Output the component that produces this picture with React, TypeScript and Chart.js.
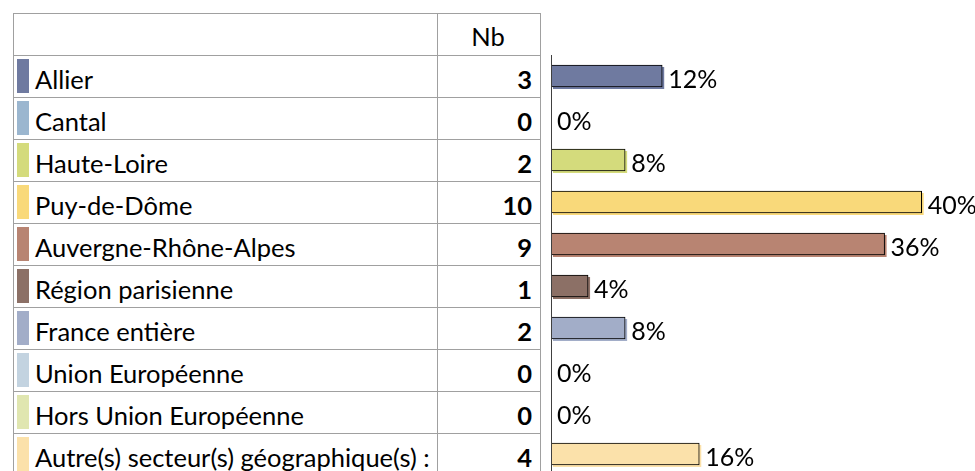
import React, { useEffect, useRef } from "react";
import { Chart, registerables } from "chart.js";

Chart.register(...registerables);

const categories = [
  "Allier",
  "Cantal",
  "Haute-Loire",
  "Puy-de-Dôme",
  "Auvergne-Rhône-Alpes",
  "Région parisienne",
  "France entière",
  "Union Européenne",
  "Hors Union Européenne",
  "Autre(s) secteur(s) géographique(s) :",
];
const counts = [3, 0, 2, 10, 9, 1, 2, 0, 0, 4];
const percents = [12, 0, 8, 40, 36, 4, 8, 0, 0, 16];
const colors = [
  "#6f7aa0",
  "#9bb6cf",
  "#d4db7c",
  "#f9d97a",
  "#b88472",
  "#8c7066",
  "#a2adc8",
  "#c3d3e0",
  "#e0e6b0",
  "#fbe1aa",
];
const countHeader = "Nb";

const FONT = "Lato, 'Open Sans', sans-serif";
const FONT_SIZE = 25.5;
const LABEL_SIZE = 25;
const ROW_TOP = 55;
const ROW_H = 42;
const LINE = "1px solid #a0a0a0";

const shadowPlugin = {
  id: "barShadow",
  beforeDatasetsDraw(chart: any) {
    const ctx = chart.ctx;
    const meta = chart.getDatasetMeta(0);
    meta.data.forEach((el: any, i: number) => {
      if (!percents[i]) return;
      const { x, y, base, height } = el.getProps(["x", "y", "base", "height"], true);
      ctx.save();
      ctx.fillStyle = colors[i];
      ctx.fillRect(base + 2, y - height / 2 + 2, x - base, height);
      ctx.restore();
    });
  },
  afterDatasetsDraw(chart: any) {
    const ctx = chart.ctx;
    const area = chart.chartArea;
    const xScale = chart.scales.x;
    const x0 = Math.round(xScale.getPixelForValue(0)) + 0.5;
    ctx.save();
    ctx.strokeStyle = "#404040";
    ctx.lineWidth = 1;
    ctx.beginPath();
    ctx.moveTo(x0, area.top);
    ctx.lineTo(x0, area.bottom);
    ctx.stroke();
    const meta = chart.getDatasetMeta(0);
    ctx.fillStyle = "#000";
    ctx.font = `${LABEL_SIZE}px ${FONT}`;
    ctx.textBaseline = "middle";
    ctx.textAlign = "left";
    meta.data.forEach((el: any, i: number) => {
      const { x, y } = el.getProps(["x", "y"], true);
      ctx.fillText(`${percents[i]}%`, x + 6, y + 4);
    });
    ctx.restore();
  },
};

function BarChart() {
  const ref = useRef<HTMLCanvasElement>(null);
  useEffect(() => {
    if (!ref.current) return;
    const chart = new Chart(ref.current, {
      type: "bar",
      data: {
        labels: categories,
        datasets: [
          {
            data: percents,
            backgroundColor: colors,
            borderColor: "#000",
            borderWidth: percents.map((v) => (v ? 1 : 0)),
            borderSkipped: false,
            barThickness: 22,
          },
        ],
      },
      options: {
        indexAxis: "y",
        animation: false,
        responsive: false,
        devicePixelRatio: 1,
        layout: { padding: { left: 11, right: 7, top: ROW_TOP, bottom: 5 } },
        plugins: { legend: { display: false }, tooltip: { enabled: false } },
        scales: {
          x: { display: false, min: 0, max: 45 },
          y: { display: false },
        },
      },
      plugins: [shadowPlugin],
    } as any);
    return () => chart.destroy();
  }, []);
  return (
    <canvas
      ref={ref}
      width={435}
      height={480}
      style={{ position: "absolute", left: 540, top: 0, width: 435, height: 480 }}
    />
  );
}

export default function App() {
  const textStyle: React.CSSProperties = {
    fontFamily: FONT,
    fontSize: FONT_SIZE,
    color: "#000",
    position: "absolute",
    height: ROW_H,
    lineHeight: `${ROW_H}px`,
    whiteSpace: "nowrap",
  };
  return (
    <div
      style={{
        position: "fixed",
        left: 0,
        top: 0,
        width: 975,
        height: 471,
        overflow: "hidden",
        background: "#fff",
      }}
    >
      <div
        style={{
          position: "absolute",
          left: 13,
          top: 13,
          width: 526,
          height: 480,
          borderLeft: LINE,
          borderTop: LINE,
          borderRight: LINE,
        }}
      />
      <div
        style={{ position: "absolute", left: 437, top: 13, width: 0, height: 480, borderLeft: LINE }}
      />
      <div style={{ ...textStyle, left: 437, width: 102, top: 15, textAlign: "center" }}>
        {countHeader}
      </div>
      {categories.map((c, i) => {
        const top = ROW_TOP + i * ROW_H;
        return (
          <React.Fragment key={c}>
            <div
              style={{ position: "absolute", left: 13, top, width: 527, height: 0, borderTop: LINE }}
            />
            <div
              style={{
                position: "absolute",
                left: 17,
                top: top + 4,
                width: 12,
                height: 34,
                background: colors[i],
              }}
            />
            <div style={{ ...textStyle, left: 35, top: top + 3 }}>{c}</div>
            <div
              style={{
                ...textStyle,
                left: 437,
                width: 95,
                top: top + 3,
                textAlign: "right",
                fontWeight: "bold",
              }}
            >
              {counts[i]}
            </div>
          </React.Fragment>
        );
      })}
      <BarChart />
    </div>
  );
}
